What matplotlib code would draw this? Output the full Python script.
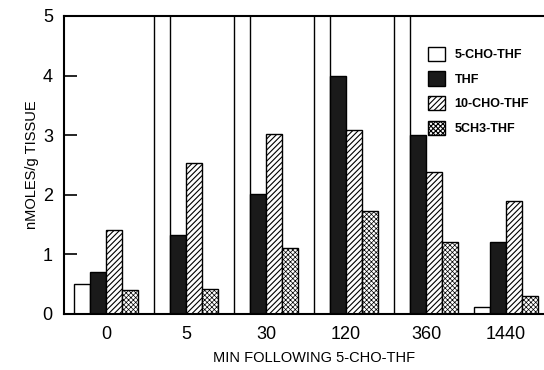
import matplotlib.pyplot as plt
import numpy as np

plt.rcParams['font.family'] = ['Liberation Sans', 'DejaVu Sans']
plt.rcParams['hatch.linewidth'] = 0.8

# folate pools (nmol/g tissue) at each time point
times = ['0', '5', '30', '120', '360', '1440']
cho5_thf = [0.5, 6.0, 6.0, 6.0, 6.0, 0.12]   # off scale at 5-360 min
thf = [0.71, 1.33, 2.02, 3.99, 3.01, 1.2]
cho10_thf = [1.41, 2.53, 3.02, 3.09, 2.39, 1.9]
ch3_thf = [0.41, 0.42, 1.1, 1.72, 1.21, 0.31]

fig = plt.figure(figsize=(5.44, 3.70), dpi=100)
ax = fig.add_axes([0.1176, 0.1514, 0.8824, 0.8054])

x = np.arange(len(times))
w = 0.2
ax.bar(x - 1.5 * w, cho5_thf, w, color='white', edgecolor='black', lw=1.0, label='5-CHO-THF')
ax.bar(x - 0.5 * w, thf, w, color='#1a1a1a', edgecolor='black', lw=1.0, label='THF')
ax.bar(x + 0.5 * w, cho10_thf, w, color='white', edgecolor='black', lw=1.0,
       hatch='//////', label='10-CHO-THF')
stip = ax.bar(x + 1.5 * w, ch3_thf, w, color='white', edgecolor='black', lw=1.0,
              hatch='xxxxxxx', label='5CH3-THF')
for p in stip:
    p.set_hatch_linewidth(0.5)

ax.set_xlim(-0.525, 5.475)
ax.set_ylim(0, 5)
ax.set_yticks([0, 1, 2, 3, 4, 5])
ax.set_xticks(x)
ax.set_xticklabels(times)
ax.tick_params(axis='y', direction='in', length=9, width=1.2, labelsize=13, pad=8)
ax.tick_params(axis='x', length=0, labelsize=13, pad=9)
ax.spines['right'].set_visible(False)
for s in ['left', 'top', 'bottom']:
    ax.spines[s].set_linewidth(1.5)

ax.set_ylabel('nMOLES/g TISSUE', fontsize=10.5)
ax.yaxis.set_label_coords(-0.052, 0.5)
ax.set_xlabel('MIN FOLLOWING 5-CHO-THF', fontsize=10.5)
ax.xaxis.set_label_coords(0.52, -0.125)

ax.legend(loc='upper left', bbox_to_anchor=(0.758, 0.897), frameon=False,
          prop={'size': 9, 'weight': 'bold'}, handlelength=1.35, handleheight=1.35,
          labelspacing=0.85, handletextpad=0.8, borderaxespad=0, borderpad=0)

fig.savefig('out.png', dpi=100)
